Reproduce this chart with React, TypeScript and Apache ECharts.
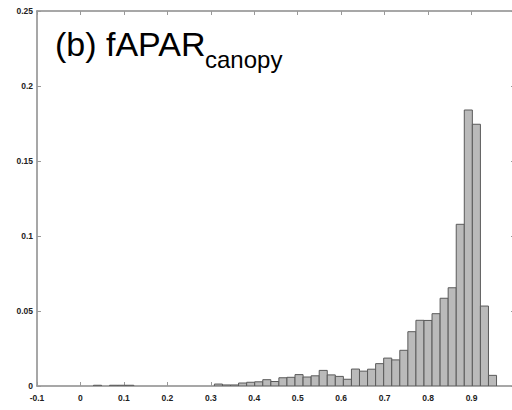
import React, { useEffect, useRef } from "react";
import * as echarts from "echarts";

// Histogram bins (MATLAB-style: 50 equal bins over the data range)
const binStart = 0.03;
const binWidth = 0.01855;
const frequencies = [
  0.0005, 0, 0.0005, 0.0005, 0.0005, 0, 0, 0, 0, 0,
  0, 0, 0, 0, 0, 0.0013, 0.0007, 0.0007, 0.002, 0.0025,
  0.0028, 0.0042, 0.003, 0.0055, 0.0058, 0.0076, 0.006, 0.0068, 0.0104, 0.0074,
  0.0064, 0.0045, 0.0113, 0.0099, 0.0112, 0.0149, 0.0186, 0.0174, 0.0238, 0.0362,
  0.0438, 0.0437, 0.0482, 0.0585, 0.0655, 0.1078, 0.184, 0.1745, 0.0533, 0.0071,
];
const xTickLabels = ["-0.1", "0", "0.1", "0.2", "0.3", "0.4", "0.5", "0.6", "0.7", "0.8", "0.9"];
const yTickLabels = ["0", "0.05", "0.1", "0.15", "0.2", "0.25"];

const titleMain = "(b) fAPAR";
const titleSub = "canopy";

function fmt(labels: string[]) {
  return (v: number) => {
    const s = String(Math.round(v * 100) / 100);
    return labels.includes(s) ? s : "";
  };
}

export default function App() {
  const ref = useRef<HTMLDivElement>(null);
  useEffect(() => {
    if (!ref.current) return;
    const chart = echarts.init(ref.current, null, { renderer: "svg" });
    const data = frequencies.map((f, i) => [
      binStart + i * binWidth,
      binStart + (i + 1) * binWidth,
      f,
    ]);
    const font = "'Liberation Sans', Arial, sans-serif";
    const lineColor = "#8a8a8a";
    const axisCommon = {
      type: "value" as const,
      splitLine: { show: false },
      axisLine: { show: true, onZero: false, lineStyle: { color: lineColor, width: 1.5 } },
      axisTick: { show: true, inside: true, length: 4, lineStyle: { color: "#999", width: 1 } },
    };
    const labelStyle = {
      fontSize: 8.5,
      fontWeight: "bold" as const,
      color: "#222",
      fontFamily: font,
    };
    chart.setOption({
      animation: false,
      grid: {
        left: 37,
        top: 11,
        width: 478,
        height: 375,
        containLabel: false,
        outerBoundsMode: "none",
      },
      xAxis: [
        {
          ...axisCommon,
          position: "bottom",
          min: -0.1,
          max: 1,
          interval: 0.1,
          axisLabel: { ...labelStyle, margin: 7, formatter: fmt(xTickLabels) },
        },
        {
          ...axisCommon,
          position: "top",
          min: -0.1,
          max: 1,
          interval: 0.1,
          axisLabel: { show: false },
        },
      ],
      yAxis: [
        {
          ...axisCommon,
          position: "left",
          min: 0,
          max: 0.25,
          interval: 0.05,
          axisLabel: { ...labelStyle, margin: 4, formatter: fmt(yTickLabels) },
        },
        {
          ...axisCommon,
          position: "right",
          min: 0,
          max: 0.25,
          interval: 0.05,
          axisLabel: { show: false },
        },
      ],
      series: [
        {
          type: "custom",
          xAxisIndex: 0,
          yAxisIndex: 0,
          data,
          clip: true,
          renderItem: (params: any, api: any) => {
            const v = api.value(2);
            if (!v) return null;
            const p0 = api.coord([api.value(0), v]);
            const p1 = api.coord([api.value(1), 0]);
            return {
              type: "rect",
              shape: { x: p0[0], y: p0[1], width: p1[0] - p0[0], height: p1[1] - p0[1] },
              style: { fill: "#bababa", stroke: "#5a5a5a", lineWidth: 1 },
            };
          },
        },
      ],
      graphic: [
        {
          type: "text",
          left: 55,
          top: 27,
          style: { text: titleMain, fontSize: 34, fill: "#000", fontFamily: font },
        },
        {
          type: "text",
          left: 205,
          top: 47,
          style: { text: titleSub, fontSize: 24, fill: "#000", fontFamily: font },
        },
      ],
    });
    return () => chart.dispose();
  }, []);
  return (
    <div
      ref={ref}
      style={{ position: "fixed", left: 0, top: 0, width: 512, height: 410, background: "#fff" }}
    />
  );
}
